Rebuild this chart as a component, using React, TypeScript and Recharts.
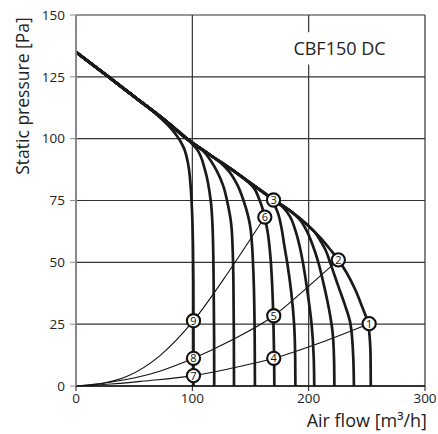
import React from 'react';
import { ComposedChart, Line, Scatter, XAxis, YAxis, CartesianGrid, ReferenceArea, Label } from 'recharts';

const FONT = '"Open Sans", "Noto Sans", sans-serif';

const xTicks = [0, 100, 200, 300];
const yTicks = [0, 25, 50, 75, 100, 125, 150];

// Fan curves (thick), each follows the common envelope then drops to its flow limit
const fan1 = [
  { x: 0, y: 135 }, { x: 28, y: 125 }, { x: 50, y: 117 }, { x: 68, y: 110.3 }, { x: 80, y: 105 },
  { x: 87, y: 101 }, { x: 92.5, y: 96.5 }, { x: 96.3, y: 90 }, { x: 98.5, y: 81 }, { x: 99.8, y: 70 },
  { x: 100.5, y: 58 }, { x: 100.9, y: 43 }, { x: 101, y: 20 }, { x: 101, y: 0 },
];
const fan2 = [
  { x: 0, y: 135 }, { x: 28, y: 125 }, { x: 50, y: 117 }, { x: 75, y: 108 }, { x: 95, y: 100.2 },
  { x: 103.8, y: 95.8 }, { x: 110.9, y: 87.3 }, { x: 115.8, y: 75 }, { x: 117.5, y: 63 },
  { x: 118.3, y: 43 }, { x: 118.7, y: 20 }, { x: 118.8, y: 0 },
];
const fan3 = [
  { x: 0, y: 135 }, { x: 28, y: 125 }, { x: 50, y: 117 }, { x: 75, y: 108 }, { x: 98, y: 99 },
  { x: 108, y: 95.6 }, { x: 116, y: 91 }, { x: 121, y: 87 }, { x: 126.5, y: 81 }, { x: 129.8, y: 75 },
  { x: 133.9, y: 63 }, { x: 135.3, y: 43 }, { x: 135.7, y: 20 }, { x: 135.8, y: 0 },
];
const fan4 = [
  { x: 0, y: 135 }, { x: 28, y: 125 }, { x: 50, y: 117 }, { x: 75, y: 108 }, { x: 98, y: 99 },
  { x: 115, y: 93.5 }, { x: 125, y: 90 }, { x: 132, y: 86.5 }, { x: 138.5, y: 81.5 }, { x: 144, y: 75 },
  { x: 150.2, y: 63 }, { x: 152.7, y: 43 }, { x: 153.6, y: 20 }, { x: 153.8, y: 0 },
];
const fan5 = [
  { x: 0, y: 135 }, { x: 28, y: 125 }, { x: 50, y: 117 }, { x: 75, y: 108 }, { x: 98, y: 99 },
  { x: 115, y: 93.5 }, { x: 134, y: 87.5 }, { x: 146, y: 83.3 }, { x: 153, y: 80 }, { x: 157.5, y: 75.5 },
  { x: 160.5, y: 71.5 }, { x: 162.3, y: 68 }, { x: 164.5, y: 63 }, { x: 167, y: 53 }, { x: 168.4, y: 43 },
  { x: 169.6, y: 28 }, { x: 170.3, y: 12 }, { x: 170.5, y: 0 },
];
const fan6 = [
  { x: 0, y: 135 }, { x: 28, y: 125 }, { x: 50, y: 117 }, { x: 75, y: 108 }, { x: 98, y: 99 },
  { x: 115, y: 93.5 }, { x: 134, y: 87.5 }, { x: 150, y: 82 }, { x: 162, y: 77.9 }, { x: 169, y: 74.5 },
  { x: 173.5, y: 70 }, { x: 176.6, y: 64 }, { x: 179, y: 57 }, { x: 181.5, y: 50 }, { x: 185, y: 38 },
  { x: 187.5, y: 25 }, { x: 188.4, y: 12 }, { x: 188.6, y: 0 },
];
const fan7 = [
  { x: 0, y: 135 }, { x: 28, y: 125 }, { x: 50, y: 117 }, { x: 75, y: 108 }, { x: 98, y: 99 },
  { x: 115, y: 93.5 }, { x: 134, y: 87.5 }, { x: 150, y: 82 }, { x: 170, y: 75.3 }, { x: 178, y: 72.3 },
  { x: 184, y: 68.5 }, { x: 188.5, y: 63 }, { x: 192, y: 57 }, { x: 195, y: 50 }, { x: 199, y: 38 },
  { x: 202.5, y: 25 }, { x: 204.3, y: 12 }, { x: 204.8, y: 0 },
];
const fan8 = [
  { x: 0, y: 135 }, { x: 28, y: 125 }, { x: 50, y: 117 }, { x: 75, y: 108 }, { x: 98, y: 99 },
  { x: 115, y: 93.5 }, { x: 134, y: 87.5 }, { x: 150, y: 82 }, { x: 170, y: 75.3 }, { x: 185, y: 70.5 },
  { x: 192, y: 67.5 }, { x: 198, y: 63 }, { x: 203, y: 57.5 }, { x: 208.3, y: 50 }, { x: 213, y: 41 },
  { x: 217.5, y: 31 }, { x: 220.5, y: 22 }, { x: 221.8, y: 11 }, { x: 222.1, y: 0 },
];
const fan9 = [
  { x: 0, y: 135 }, { x: 28, y: 125 }, { x: 50, y: 117 }, { x: 75, y: 108 }, { x: 98, y: 99 },
  { x: 115, y: 93.5 }, { x: 134, y: 87.5 }, { x: 150, y: 82 }, { x: 170, y: 75.3 }, { x: 185, y: 70.5 },
  { x: 198, y: 65.5 }, { x: 205, y: 62.3 }, { x: 211, y: 58 }, { x: 214.5, y: 55 }, { x: 218.4, y: 50 },
  { x: 225, y: 41 }, { x: 231, y: 33 }, { x: 236, y: 25 }, { x: 238.3, y: 12 }, { x: 238.9, y: 0 },
];
const fan10 = [
  { x: 0, y: 135 }, { x: 28, y: 125 }, { x: 50, y: 117 }, { x: 75, y: 108 }, { x: 98, y: 99 },
  { x: 115, y: 93.5 }, { x: 134, y: 87.5 }, { x: 150, y: 82 }, { x: 170, y: 75.3 }, { x: 185, y: 70.5 },
  { x: 198, y: 65.5 }, { x: 210, y: 60 }, { x: 218, y: 55.5 }, { x: 225.5, y: 51 }, { x: 233, y: 45.5 },
  { x: 240, y: 39 }, { x: 246, y: 32 }, { x: 250, y: 27 }, { x: 252, y: 22 }, { x: 253.2, y: 12 },
  { x: 253.4, y: 0 },
];
const fanCurves = [fan1, fan2, fan3, fan4, fan5, fan6, fan7, fan8, fan9, fan10];

// System curves (thin)
const systemA = [
  { x: 0, y: 0 }, { x: 20, y: 0.8 }, { x: 43.5, y: 3.8 }, { x: 72, y: 12.2 }, { x: 101, y: 26.4 },
  { x: 131, y: 46 }, { x: 162.3, y: 68.3 },
];
const systemB = [
  { x: 0, y: 0 }, { x: 29, y: 1.5 }, { x: 72, y: 6 }, { x: 101, y: 11.2 }, { x: 131, y: 17.9 },
  { x: 170, y: 28.4 }, { x: 198, y: 39.5 }, { x: 225.5, y: 51 },
];
const systemC = [
  { x: 0, y: 0 }, { x: 30, y: 0.8 }, { x: 58, y: 2 }, { x: 101, y: 4.2 }, { x: 131, y: 6.9 },
  { x: 170, y: 11.2 }, { x: 210, y: 17.5 }, { x: 252, y: 25.2 },
];
const systemCurves = [systemA, systemB, systemC];

// Numbered operating points
const markers = [
  { n: '1', x: 252, y: 25.2 },
  { n: '2', x: 225.5, y: 51 },
  { n: '3', x: 169.8, y: 75.2 },
  { n: '4', x: 170, y: 11.2 },
  { n: '5', x: 170, y: 28.4 },
  { n: '6', x: 162.3, y: 68.3 },
  { n: '7', x: 101, y: 4.2 },
  { n: '8', x: 101, y: 11.2 },
  { n: '9', x: 101, y: 26.4 },
];

const MarkerShape = (props: any) => {
  const { cx, cy, payload } = props;
  return (
    <g>
      <circle cx={cx} cy={cy} r={6.6} fill="#fff" stroke="#111" strokeWidth={2.1} />
      <text x={cx} y={cy} dy="0.36em" textAnchor="middle" fontSize={11} fill="#111" fontFamily={FONT}>
        {payload.n}
      </text>
    </g>
  );
};

export default function App() {
  return (
    <div style={{ position: 'absolute', left: 0, top: 0, width: 438, height: 434, background: '#fff' }}>
      <ComposedChart width={438} height={434} margin={{ top: 15, right: 13, bottom: 18, left: 0 }}>
        <CartesianGrid stroke="#333" strokeWidth={1.2} />
        <XAxis
          type="number"
          dataKey="x"
          domain={[0, 300]}
          ticks={xTicks}
          allowDataOverflow
          height={30}
          tickSize={5}
          axisLine={{ stroke: '#111', strokeWidth: 1.3 }}
          tickLine={{ stroke: '#111' }}
          tick={{ fill: '#222', fontSize: 13.5, fontFamily: FONT }}
        >
          <Label
            content={() => (
              <text x={427} y={427} textAnchor="end" fontSize={18} fill="#222" fontFamily={FONT}>
                Air flow [m³/h]
              </text>
            )}
          />
        </XAxis>
        <YAxis
          type="number"
          dataKey="y"
          domain={[0, 150]}
          ticks={yTicks}
          allowDataOverflow
          width={76}
          tickSize={6}
          tickMargin={5}
          axisLine={{ stroke: '#8c8c8c', strokeWidth: 1.6 }}
          tickLine={{ stroke: '#8c8c8c' }}
          tick={{ fill: '#222', fontSize: 13.5, fontFamily: FONT }}
        >
          <Label
            content={() => (
              <text
                x={29}
                y={96}
                transform="rotate(-90, 29, 96)"
                textAnchor="middle"
                fontSize={17.5}
                fill="#222"
                fontFamily={FONT}
              >
                Static pressure [Pa]
              </text>
            )}
          />
        </YAxis>
        <ReferenceArea
          x1={182}
          x2={271}
          y1={130}
          y2={143}
          fill="#fff"
          fillOpacity={1}
          stroke="none"
          label={{ value: 'CBF150 DC', position: 'center', fontSize: 18, fill: '#222', fontFamily: FONT }}
        />
        {systemCurves.map((d, i) => (
          <Line
            key={'s' + i}
            data={d}
            dataKey="y"
            type="monotone"
            stroke="#111"
            strokeWidth={1.1}
            dot={false}
            activeDot={false}
            isAnimationActive={false}
          />
        ))}
        {fanCurves.map((d, i) => (
          <Line
            key={'f' + i}
            data={d}
            dataKey="y"
            type="monotoneY"
            stroke="#1a1a1a"
            strokeWidth={2.7}
            dot={false}
            activeDot={false}
            isAnimationActive={false}
          />
        ))}
        <Scatter data={markers} dataKey="y" shape={MarkerShape} isAnimationActive={false} />
      </ComposedChart>
    </div>
  );
}
